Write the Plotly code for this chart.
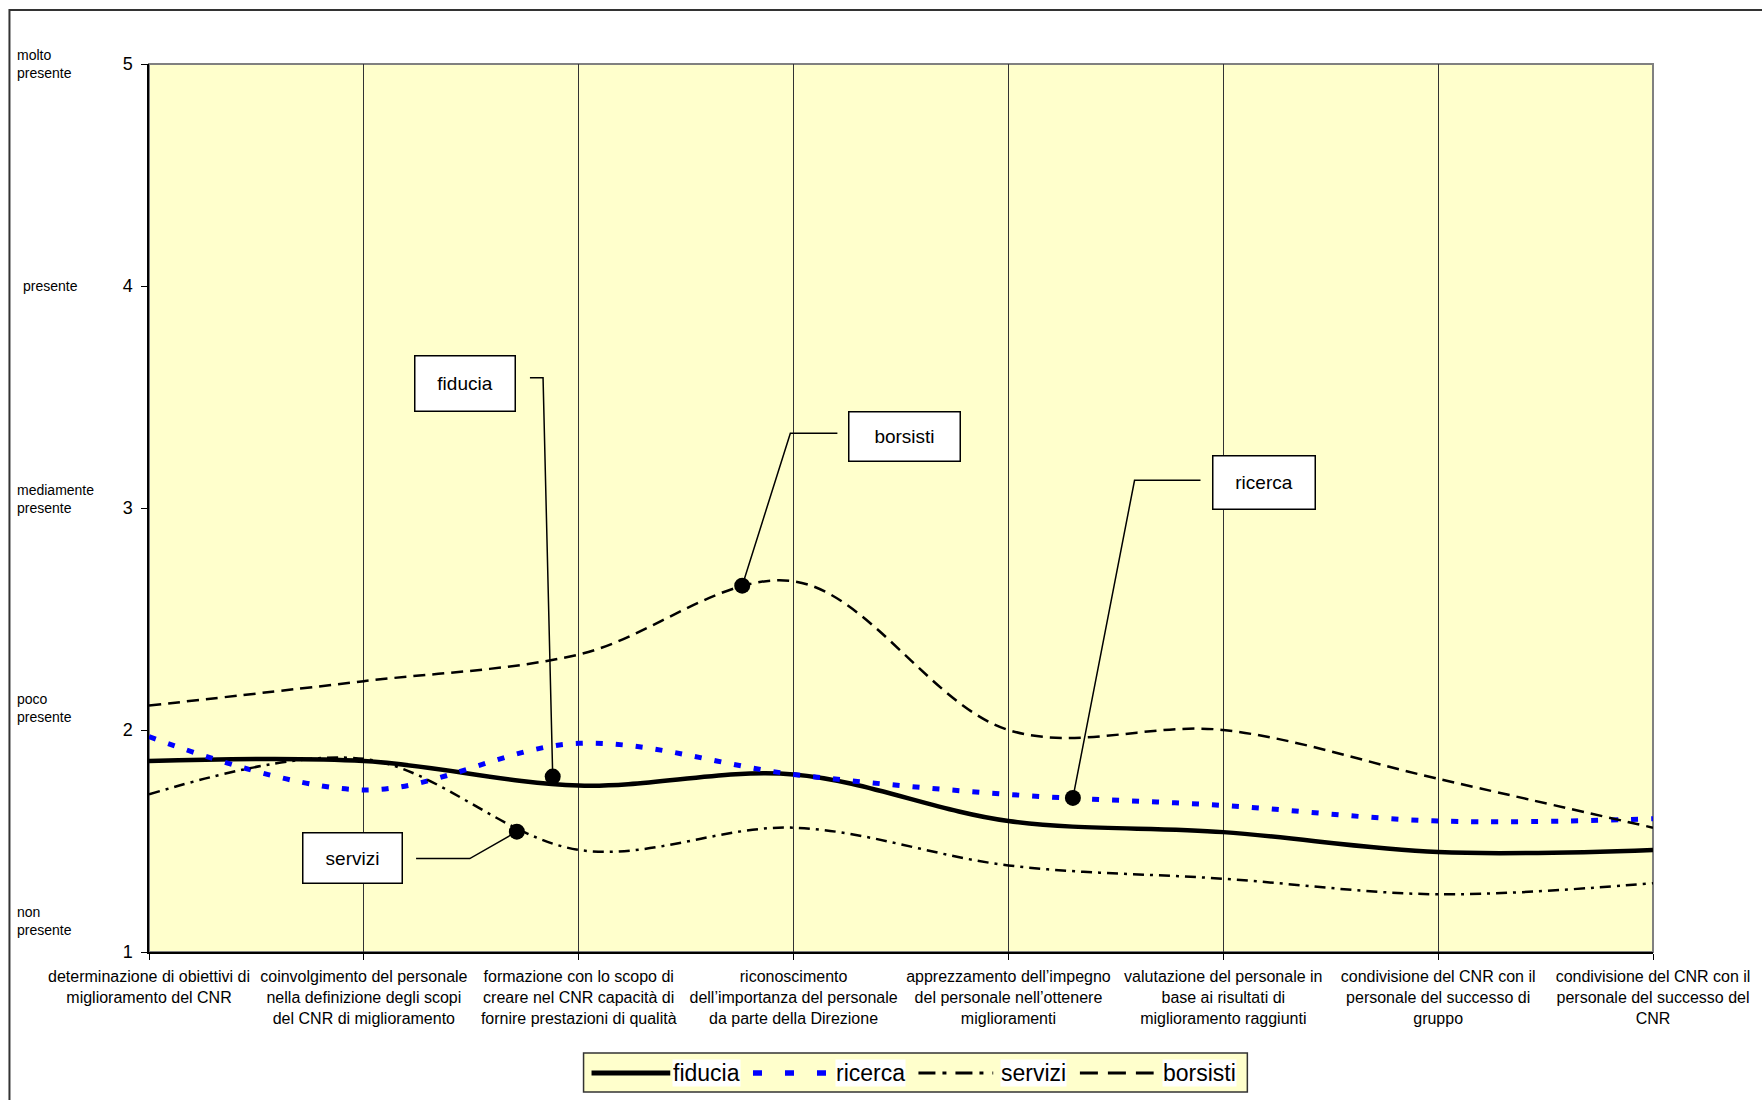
import plotly.graph_objects as go

# ---- data -------------------------------------------------------------
categories = [
    "determinazione di obiettivi di<br>miglioramento del CNR",
    "coinvolgimento del personale<br>nella definizione degli scopi<br>del CNR di miglioramento",
    "formazione con lo scopo di<br>creare nel CNR capacità di<br>fornire prestazioni di qualità",
    "riconoscimento<br>dell’importanza del personale<br>da parte della Direzione",
    "apprezzamento dell’impegno<br>del personale nell’ottenere<br>miglioramenti",
    "valutazione del personale in<br>base ai risultati di<br>miglioramento raggiunti",
    "condivisione del CNR con il<br>personale del successo di<br>gruppo",
    "condivisione del CNR con il<br>personale del successo del<br>CNR",
]

fiducia = [1.86, 1.86, 1.75, 1.80, 1.59, 1.54, 1.45, 1.46]
ricerca = [1.97, 1.73, 1.94, 1.80, 1.71, 1.66, 1.59, 1.60]
servizi = [1.71, 1.87, 1.46, 1.56, 1.39, 1.33, 1.26, 1.31]
borsisti = [2.11, 2.22, 2.34, 2.67, 2.00, 2.00, 1.78, 1.56]

y_ticks = [1, 2, 3, 4, 5]
scale_labels = ["non<br>presente", "poco<br>presente", "mediamente<br>presente", "presente", "molto<br>presente"]
scale_label_y = [1.14, 2.10, 3.04, 4.0, 5.0]

# callouts: label, box centre (x, y), elbow start, elbow corner, anchor dot
callout_names = ["fiducia", "borsisti", "ricerca", "servizi"]
callout_box_x = [1.471, 3.518, 5.190, 0.945]
callout_box_y = [3.560, 3.324, 3.113, 1.423]
callout_box_w = [102, 113, 104, 101]
callout_box_h = [57, 51, 55, 52]
callout_start_x = [1.773, 3.204, 4.894, 1.243]
callout_corner_x = [1.834, 2.985, 4.587, 1.493]
callout_elbow_y = [3.587, 3.337, 3.125, 1.421]
callout_dot_x = [1.879, 2.761, 4.300, 1.712]
callout_dot_y = [1.790, 2.650, 1.694, 1.542]

# ---- layout geometry (pixels) ------------------------------------------
W, H = 1762, 1100
L, R, T, B = 149, 104, 64, 148
PW, PH = W - L - R, H - T - B
FONT = "Arial, Liberation Sans, sans-serif"


def px(xp):
    return (xp - L) / PW


def py(yp):
    return (H - B - yp) / PH


# (name, values, plot line style, legend sample dash)
series = [
    ("fiducia", fiducia, dict(color="black", width=4.5, dash="solid"), "solid"),
    ("ricerca", ricerca, dict(color="#0000FF", width=5, dash="7px,13px"), "9px,23px"),
    ("servizi", servizi, dict(color="black", width=2.5, dash="11px,6px,3px,6px"), "17px,7px,4px,9px"),
    ("borsisti", borsisti, dict(color="black", width=2.5, dash="12px,7px"), "18px,10px"),
]

xs = list(range(len(categories)))
fig = go.Figure()

for name, vals, ln, _ in series:
    fig.add_trace(go.Scatter(
        x=xs, y=vals, name=name, mode="lines",
        line=dict(shape="spline", smoothing=1.0, **ln),
        showlegend=False, hoverinfo="skip",
    ))

shapes = []
annotations = []

# plot-area frame: grey top/right edges
shapes.append(dict(type="rect", xref="paper", yref="paper", x0=0, x1=1, y0=0, y1=1,
                   line=dict(color="#808080", width=2), layer="below"))
# outer chart frame
shapes.append(dict(type="rect", xref="paper", yref="paper",
                   x0=px(9), x1=px(1800), y0=py(10), y1=py(1150),
                   line=dict(color="#333333", width=2), layer="above"))

# callout leader lines and boxes
for i, name in enumerate(callout_names):
    shapes.append(dict(
        type="path", xref="x", yref="y",
        path=(f"M {callout_start_x[i]} {callout_elbow_y[i]} "
              f"L {callout_corner_x[i]} {callout_elbow_y[i]} "
              f"L {callout_dot_x[i]} {callout_dot_y[i]}"),
        line=dict(color="black", width=1.5),
    ))
    annotations.append(dict(
        x=callout_box_x[i], y=callout_box_y[i], xref="x", yref="y",
        text=name, showarrow=False, xanchor="center", yanchor="middle",
        width=callout_box_w[i] - 3, height=callout_box_h[i] - 3, borderpad=0,
        bgcolor="white", bordercolor="black", borderwidth=1.5,
        font=dict(family=FONT, size=19, color="black"),
    ))

fig.add_trace(go.Scatter(
    x=callout_dot_x, y=callout_dot_y, mode="markers",
    marker=dict(color="black", size=16, line=dict(width=0)),
    showlegend=False, hoverinfo="skip",
))

# verbal scale beside the y axis
for lab, yv in zip(scale_labels, scale_label_y):
    annotations.append(dict(
        x=px(21 if lab == "presente" else 15), y=yv, xref="paper", yref="y",
        text=lab, showarrow=False, xanchor="left", yanchor="middle", align="left",
        font=dict(family=FONT, size=14, color="black"),
    ))

# legend box drawn by hand
shapes.append(dict(type="rect", xref="paper", yref="paper",
                   x0=px(585), x1=px(1251), y0=py(1053), y1=py(1092),
                   fillcolor="#FFFFCC", line=dict(color="#333333", width=1.5)))
legend_sample_x = [(593, 672), (755, 829), (921, 996), (1083, 1157)]
legend_text_x = [674, 837, 1003, 1165]
for (name, vals, ln, ldash), (a, b), tx in zip(series, legend_sample_x, legend_text_x):
    shapes.append(dict(type="line", xref="paper", yref="paper",
                       x0=px(a), x1=px(b), y0=py(1073), y1=py(1073),
                       line=dict(color=ln["color"], width=ln["width"] + 0.5, dash=ldash)))
    annotations.append(dict(
        x=px(tx), y=py(1073), xref="paper", yref="paper",
        text=name, showarrow=False, xanchor="left", yanchor="middle",
        bgcolor="white", borderpad=0,
        font=dict(family=FONT, size=23, color="black"),
    ))

fig.update_layout(
    width=W, height=H, autosize=False,
    margin=dict(l=L, r=R, t=T, b=B),
    paper_bgcolor="white", plot_bgcolor="#FFFFCC",
    font=dict(family=FONT, color="black"),
    shapes=shapes, annotations=annotations,
    showlegend=False,
)
fig.update_xaxes(
    range=[0, 7], tickvals=xs, ticktext=categories,
    showgrid=True, gridcolor="#333333", gridwidth=1,
    showline=True, linecolor="black", linewidth=1.5,
    ticks="outside", ticklen=6, tickcolor="black",
    tickfont=dict(family=FONT, size=16, color="black"),
    ticklabelstandoff=3, zeroline=False, fixedrange=True,
)
fig.update_yaxes(
    range=[1, 5], tickvals=y_ticks,
    showgrid=False, zeroline=False,
    showline=True, linecolor="black", linewidth=1.5,
    ticks="outside", ticklen=6, tickcolor="black",
    tickfont=dict(family=FONT, size=18, color="black"),
    ticklabelstandoff=5, fixedrange=True,
)

fig.write_html("out.html")
